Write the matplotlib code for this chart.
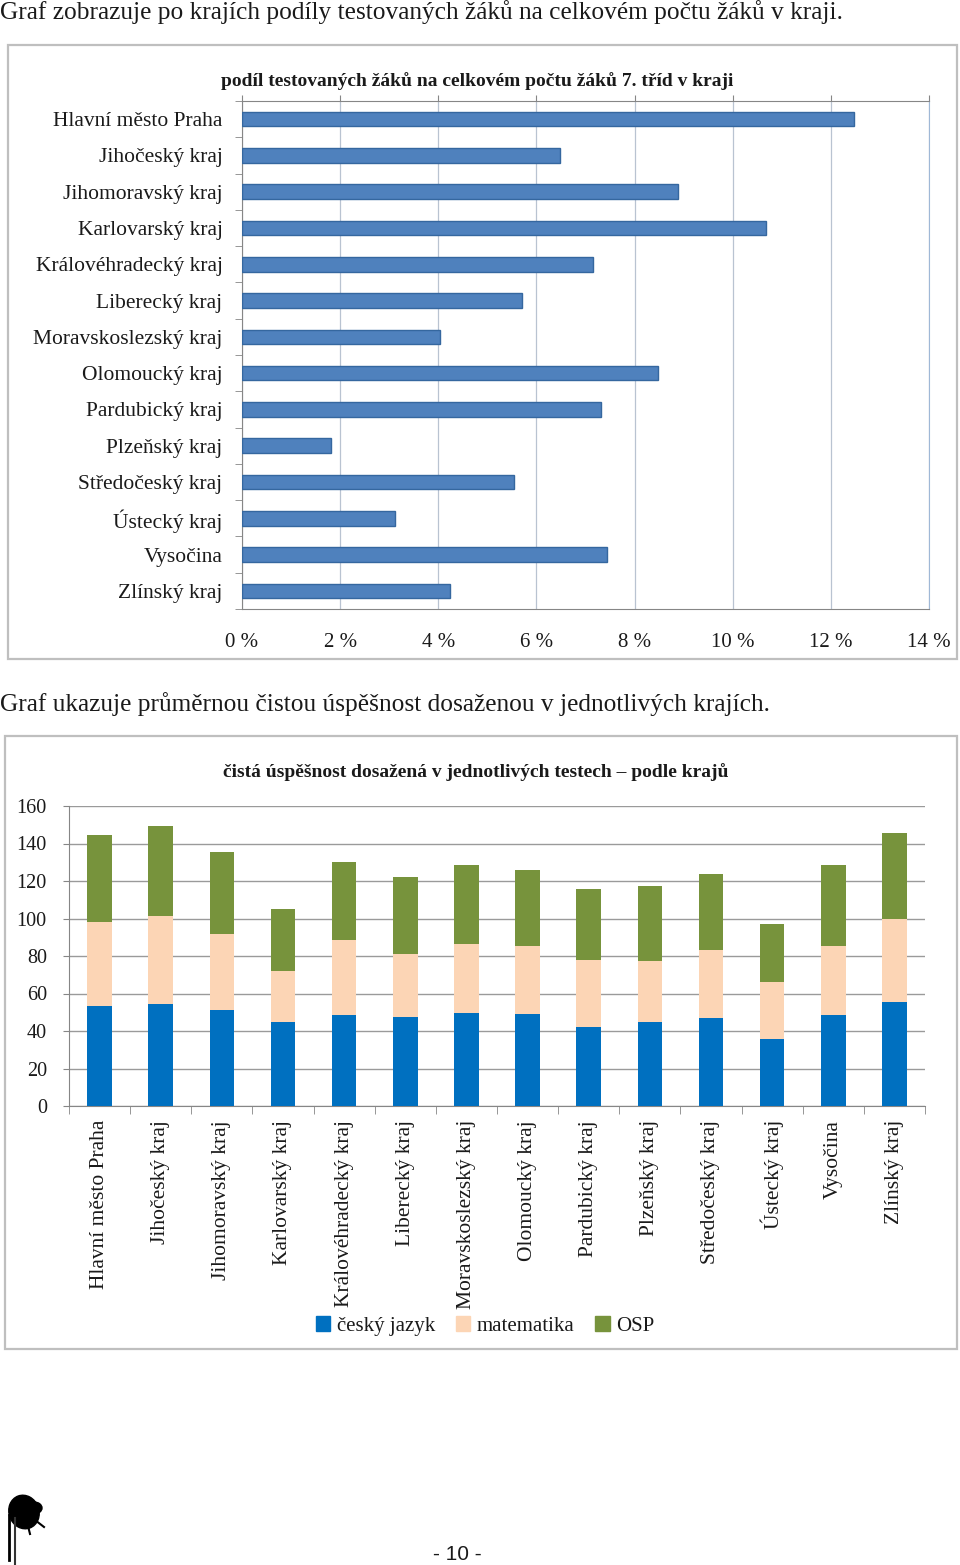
import matplotlib

matplotlib.use("Agg")

import matplotlib.pyplot as plt
import numpy as np
from matplotlib.patches import Ellipse, Patch, Rectangle

W, H = 960, 1565

REGIONS = [
    "Hlavní město Praha",
    "Jihočeský kraj",
    "Jihomoravský kraj",
    "Karlovarský kraj",
    "Královéhradecký kraj",
    "Liberecký kraj",
    "Moravskoslezský kraj",
    "Olomoucký kraj",
    "Pardubický kraj",
    "Plzeňský kraj",
    "Středočeský kraj",
    "Ústecký kraj",
    "Vysočina",
    "Zlínský kraj",
]

# podíl testovaných žáků (v %)
PODIL = [12.48, 6.48, 8.88, 10.68, 7.16, 5.71, 4.03, 8.48, 7.31, 1.81, 5.55, 3.12, 7.44, 4.23]
PCT_TICKS = [0, 2, 4, 6, 8, 10, 12, 14]

# čistá úspěšnost podle testů
CESKY = [53.2, 54.6, 51.4, 44.7, 48.8, 47.3, 49.8, 49.3, 42.3, 44.7, 46.8, 35.8, 48.4, 55.5]
MATEMATIKA = [45.0, 46.8, 40.2, 27.2, 39.6, 33.8, 36.5, 36.3, 35.6, 32.9, 36.5, 30.2, 37.2, 44.3]
OSP = [46.3, 48.2, 44.0, 33.1, 42.0, 41.1, 42.0, 40.2, 37.6, 40.0, 40.4, 31.2, 42.7, 45.8]
SCORE_TICKS = [0, 20, 40, 60, 80, 100, 120, 140, 160]
SERIES_NAMES = ["český jazyk", "matematika", "OSP"]

STYLE = {
    "text": "#1a1a1a",
    "box": "#bfbfbf",
    "axis": "#868686",
    "grid1": "#b9c3d1",
    "grid2": "#9a9a9a",
    "bar1": "#4f81bd",
    "bar1_edge": "#35679f",
    "cj": "#0070c0",
    "mat": "#fcd5b5",
    "osp": "#77933c",
}

SERIF = ["Liberation Serif", "DejaVu Serif"]

plt.rcParams.update(
    {
        "font.family": SERIF,
        "text.color": STYLE["text"],
        "xtick.color": STYLE["axis"],
        "ytick.color": STYLE["axis"],
        "xtick.labelcolor": STYLE["text"],
        "ytick.labelcolor": STYLE["text"],
    }
)


def px_rect(x0, y0, x1, y1):
    return [x0 / W, 1 - y1 / H, (x1 - x0) / W, (y1 - y0) / H]


fig = plt.figure(figsize=(W / 100, H / 100), dpi=100)

# page layer: headings, boxes, page number
page = fig.add_axes([0, 0, 1, 1])
page.set_xlim(0, W)
page.set_ylim(H, 0)
page.axis("off")

page.text(0, 12, "Graf zobrazuje po krajích podíly testovaných žáků na celkovém počtu žáků v kraji.",
          fontsize=18.3, va="center", ha="left", family=SERIF)
page.text(0, 704, "Graf ukazuje průměrnou čistou úspěšnost dosaženou v jednotlivých krajích.",
          fontsize=18.3, va="center", ha="left", family=SERIF)
page.add_patch(Rectangle((8, 45), 949, 614, fill=False, edgecolor=STYLE["box"], lw=1.6))
page.add_patch(Rectangle((5, 736), 952, 613, fill=False, edgecolor=STYLE["box"], lw=1.6))
page.text(477, 81, "podíl testovaných žáků na celkovém počtu žáků 7. tříd v kraji",
          fontsize=14, fontweight="bold", ha="center", va="center")
page.text(476, 772, "čistá úspěšnost dosažená v jednotlivých testech – podle krajů",
          fontsize=14, fontweight="bold", ha="center", va="center")
page.text(457, 1555, "- 10 -", fontsize=15, ha="center", va="center",
          family=["Liberation Sans Narrow", "Liberation Sans", "DejaVu Sans"])

# ink blot in the corner
page.add_patch(Ellipse((24, 1512), 30, 34, angle=-20, color="black"))
page.add_patch(Ellipse((34, 1508), 16, 12, color="black"))
page.plot([9, 9], [1515, 1560], color="black", lw=2)
page.plot([15, 15], [1518, 1565], color="#333333", lw=1.5)
page.plot([35, 44], [1520, 1527], color="black", lw=1.5)
page.plot([28, 30], [1526, 1534], color="black", lw=1.5)

# chart 1: horizontal bars
ax1 = fig.add_axes(px_rect(242, 101, 929, 609))
y = np.arange(len(REGIONS))
ax1.barh(y, PODIL, height=0.4, color=STYLE["bar1"], edgecolor=STYLE["bar1_edge"], lw=1, zorder=3)
ax1.set_xlim(0, 14)
ax1.set_ylim(len(REGIONS) - 0.5, -0.5)
ax1.set_xticks(PCT_TICKS)
ax1.set_xticklabels([f"{t} %" for t in PCT_TICKS], fontsize=15)
ax1.tick_params(axis="x", top=True, bottom=False, labeltop=False, labelbottom=True,
                length=4, pad=13)
ax1.grid(axis="x", color=STYLE["grid1"], lw=0.9, zorder=0)
ax1.set_yticks(y)
ax1.set_yticklabels(REGIONS, fontsize=15.5)
ax1.set_yticks(np.arange(-0.5, len(REGIONS) + 0.5, 1), minor=True)
ax1.tick_params(axis="y", which="major", length=0, pad=14)
ax1.tick_params(axis="y", which="minor", length=5)
for side in ["left", "bottom", "top"]:
    ax1.spines[side].set_color(STYLE["axis"])
ax1.spines["right"].set_color("#9fb8d6")

# chart 2: stacked bars
ax2 = fig.add_axes(px_rect(69, 806, 925, 1106))
x = np.arange(len(REGIONS))
cj = np.array(CESKY)
mat = np.array(MATEMATIKA)
osp = np.array(OSP)
ax2.bar(x, cj, width=0.4, color=STYLE["cj"], zorder=3)
ax2.bar(x, mat, width=0.4, bottom=cj, color=STYLE["mat"], zorder=3)
ax2.bar(x, osp, width=0.4, bottom=cj + mat, color=STYLE["osp"], zorder=3)
ax2.set_xlim(-0.5, len(REGIONS) - 0.5)
ax2.set_ylim(0, 160)
ax2.set_yticks(SCORE_TICKS)
ax2.set_yticklabels([str(t) for t in SCORE_TICKS], fontsize=14.5)
ax2.tick_params(axis="y", length=4, pad=12)
ax2.grid(axis="y", color=STYLE["grid2"], lw=1, zorder=0)
ax2.set_xticks(x)
ax2.set_xticklabels(REGIONS, rotation=90, fontsize=15.5, va="top", ha="center")
ax2.set_xticks(np.arange(-0.5, len(REGIONS), 1), minor=True)
ax2.tick_params(axis="x", which="major", length=0, pad=10)
ax2.tick_params(axis="x", which="minor", length=6)
ax2.spines["top"].set_visible(False)
ax2.spines["right"].set_visible(False)
ax2.spines["left"].set_color(STYLE["axis"])
ax2.spines["bottom"].set_color(STYLE["axis"])

handles = [Patch(color=STYLE[k]) for k in ["cj", "mat", "osp"]]
fig.legend(handles, SERIES_NAMES, loc="center", bbox_to_anchor=(485 / W, 1 - 1326 / H),
           ncol=3, frameon=False, fontsize=15, handlelength=0.7, handleheight=0.7,
           handletextpad=0.3, columnspacing=1.0)

fig.savefig("out.png", dpi=100)
